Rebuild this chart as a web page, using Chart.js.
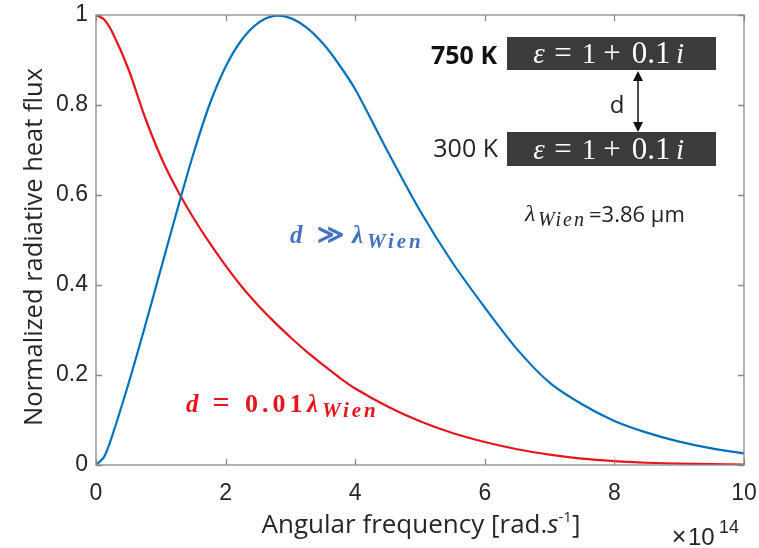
<!DOCTYPE html>
<html>
<head>
<meta charset="utf-8">
<script src="https://cdn.jsdelivr.net/npm/chart.js@4/dist/chart.umd.min.js"></script>
<style>
  html, body { margin: 0; padding: 0; background: #fff; }
  #wrap { width: 759px; height: 548px; position: relative; }
</style>
</head>
<body>
<div id="wrap"><canvas id="chart-flux"></canvas></div>
<script>
// angular frequency (x 1e14 rad/s)
const freq = [0, 0.125, 0.25, 0.5, 0.75, 1, 1.25, 1.5, 1.75, 2, 2.25, 2.5, 2.75, 3, 3.25, 3.5, 3.75,
  4, 4.5, 5, 5.5, 6, 6.5, 7, 7.5, 8, 8.5, 9, 9.5, 10];
// d >> lambda_Wien (far field)
const fluxFar = [0, 0.018, 0.065, 0.18, 0.305, 0.435, 0.565, 0.69, 0.8, 0.885, 0.945, 0.982, 0.998, 0.993, 0.972, 0.937, 0.89,
  0.835, 0.697, 0.565, 0.45, 0.35, 0.257, 0.183, 0.135, 0.098, 0.072, 0.052, 0.037, 0.026];
// d = 0.01 lambda_Wien (near field)
const fluxNear = [1.0, 0.99, 0.962, 0.88, 0.775, 0.685, 0.612, 0.55, 0.494, 0.443, 0.396, 0.355, 0.318, 0.284, 0.252, 0.223, 0.195,
  0.17, 0.13, 0.097, 0.071, 0.051, 0.035, 0.023, 0.014, 0.0085, 0.005, 0.003, 0.0018, 0.001];
const xTicks = [0, 2, 4, 6, 8, 10];
const yTicks = [0, 0.2, 0.4, 0.6, 0.8, 1];

const BLUE = '#0072bd';
const RED = '#e8141c';
const AXIS = '#8a8a8a';
const SANS = '"Open Sans", "Noto Sans", sans-serif';
const SERIF = '"Liberation Serif", "DejaVu Serif", serif';
const HELV = '"Liberation Sans", Arial, sans-serif';

function txt(ctx, s, x, y, font, color, align = 'left', spacing = 0) {
  ctx.font = font;
  ctx.fillStyle = color;
  ctx.textAlign = align;
  ctx.textBaseline = 'alphabetic';
  ctx.letterSpacing = spacing + 'px';
  ctx.fillText(s, x, y);
  const w = ctx.measureText(s).width;
  ctx.letterSpacing = '0px';
  return w;
}

const framePlugin = {
  id: 'frame',
  beforeDraw(chart) {
    const ctx = chart.ctx;
    ctx.save();
    ctx.fillStyle = '#fff';
    ctx.fillRect(0, 0, chart.width, chart.height);
    ctx.restore();
  },
  afterDraw(chart) {
    const ctx = chart.ctx;
    const { left, right, top, bottom } = chart.chartArea;
    const xs = chart.scales.x, ys = chart.scales.y;
    ctx.save();

    // box + inward ticks (matlab style)
    ctx.strokeStyle = AXIS;
    ctx.lineWidth = 1.3;
    ctx.strokeRect(left, top, right - left, bottom - top);
    ctx.beginPath();
    xTicks.forEach((t) => {
      const px = Math.round(xs.getPixelForValue(t)) + 0.5;
      ctx.moveTo(px, bottom); ctx.lineTo(px, bottom - 6);
      ctx.moveTo(px, top); ctx.lineTo(px, top + 6);
    });
    yTicks.forEach((t) => {
      const py = Math.round(ys.getPixelForValue(t)) + 0.5;
      ctx.moveTo(left, py); ctx.lineTo(left + 6, py);
      ctx.moveTo(right, py); ctx.lineTo(right - 6, py);
    });
    ctx.stroke();

    // axis titles
    const TC = '#262626';
    ctx.font = '26px ' + SANS;
    const a = 'Angular frequency [rad.';
    const wa = ctx.measureText(a).width;
    ctx.font = 'italic 26px ' + SANS;
    const ws = ctx.measureText('s').width;
    ctx.font = '15px ' + SANS;
    const wb = ctx.measureText('-1').width;
    ctx.font = '26px ' + SANS;
    const wc = ctx.measureText(']').width;
    const x0 = 421 - (wa + ws + wb + wc) / 2;
    txt(ctx, a, x0, 533, '26px ' + SANS, TC);
    txt(ctx, 's', x0 + wa, 533, 'italic 26px ' + SANS, TC);
    txt(ctx, '-1', x0 + wa + ws, 522, '15px ' + SANS, TC);
    txt(ctx, ']', x0 + wa + ws + wb, 533, '26px ' + SANS, TC);

    ctx.save();
    ctx.translate(42, 247);
    ctx.rotate(-Math.PI / 2);
    txt(ctx, 'Normalized radiative heat flux', 0, 0, '25.5px ' + SANS, TC, 'center');
    ctx.restore();

    // exponent
    txt(ctx, '\u00d7', 679, 545, '25px ' + HELV, TC, 'center');
    txt(ctx, '10', 688, 545, '24px ' + HELV, TC);
    txt(ctx, '14', 719, 533, '18px ' + HELV, TC);

    // inset: two slabs
    ctx.fillStyle = '#3b3b3b';
    ctx.fillRect(507, 37, 209, 33);
    ctx.fillRect(507, 132, 209, 34);
    [63, 159].forEach((by) => {
      txt(ctx, '\u03b5', 539, by, 'italic 29px ' + SERIF, '#fff', 'center');
      txt(ctx, '=', 563, by, '31px ' + SERIF, '#fff', 'center');
      txt(ctx, '1', 589, by, '29px ' + SERIF, '#fff', 'center');
      txt(ctx, '+', 612, by, '31px ' + SERIF, '#fff', 'center');
      txt(ctx, '0.1', 651, by, '31px ' + SERIF, '#fff', 'center');
      txt(ctx, 'i', 680, by, 'italic 29px ' + SERIF, '#fff', 'center');
    });
    txt(ctx, '750 K', 497, 64, 'bold 25px ' + SANS, '#111', 'right');
    txt(ctx, '300 K', 498, 157, '25px ' + SANS, '#222', 'right');

    // double arrow
    ctx.strokeStyle = '#111';
    ctx.fillStyle = '#111';
    ctx.lineWidth = 1.5;
    ctx.beginPath();
    ctx.moveTo(638, 78); ctx.lineTo(638, 125);
    ctx.stroke();
    ctx.beginPath();
    ctx.moveTo(638, 71); ctx.lineTo(633, 81); ctx.lineTo(643, 81); ctx.closePath();
    ctx.moveTo(638, 132); ctx.lineTo(633, 122); ctx.lineTo(643, 122); ctx.closePath();
    ctx.fill();
    txt(ctx, 'd', 617, 113, '24px ' + SANS, '#222', 'center');

    // lambda Wien
    txt(ctx, '\u03bb', 525, 221, 'italic 24px ' + SERIF, '#222');
    txt(ctx, 'Wien', 538, 226, 'italic 20px ' + SERIF, '#222', 'left', 2);
    txt(ctx, '=3.86 \u00b5m', 589, 222, '22px ' + SANS, '#222');

    // curve labels
    const BL = '#4472c4';
    txt(ctx, 'd', 290, 243, 'bold italic 25px ' + SERIF, BL);
    txt(ctx, '\u226b', 330, 243, 'bold 26px "DejaVu Serif", serif', BL, 'center');
    txt(ctx, '\u03bb', 352, 243, 'bold italic 25px ' + SERIF, BL);
    txt(ctx, 'Wien', 367, 248, 'bold italic 21px ' + SERIF, BL, 'left', 3);

    txt(ctx, 'd', 186, 412, 'bold italic 25px ' + SERIF, RED);
    txt(ctx, '=', 221, 412, 'bold 30px ' + SERIF, RED, 'center');
    txt(ctx, '0.01', 245, 412, 'bold 26px ' + SERIF, RED, 'left', 4);
    txt(ctx, '\u03bb', 307, 412, 'bold italic 25px ' + SERIF, RED);
    txt(ctx, 'Wien', 322, 417, 'bold italic 21px ' + SERIF, RED, 'left', 3);

    ctx.restore();
  }
};

const ctx = document.getElementById('chart-flux').getContext('2d');
new Chart(ctx, {
  type: 'line',
  data: {
    datasets: [
      { label: 'd >> lambda_Wien', data: freq.map((f, i) => ({ x: f, y: fluxFar[i] })),
        borderColor: BLUE, borderWidth: 2.2, pointRadius: 0, tension: 0.3, fill: false },
      { label: 'd = 0.01 lambda_Wien', data: freq.map((f, i) => ({ x: f, y: fluxNear[i] })),
        borderColor: RED, borderWidth: 2.2, pointRadius: 0, tension: 0.3, fill: false }
    ]
  },
  options: {
    responsive: true,
    maintainAspectRatio: false,
    animation: false,
    events: [],
    layout: { padding: { left: 0, right: 15, top: 15, bottom: 0 } },
    plugins: { legend: { display: false }, tooltip: { enabled: false } },
    scales: {
      x: {
        type: 'linear', min: 0, max: 10,
        afterFit: (s) => { s.height = 83; s.paddingLeft = 0; s.paddingRight = 0; },
        afterBuildTicks: (s) => { s.ticks = xTicks.map((v) => ({ value: v })); },
        ticks: { font: { family: HELV, size: 23 }, color: '#262626', padding: 15, maxRotation: 0, autoSkip: false },
        grid: { display: true, drawOnChartArea: false, drawTicks: false },
        border: { display: false }
      },
      y: {
        type: 'linear', min: 0, max: 1,
        afterFit: (s) => { s.width = 96; s.paddingTop = 0; s.paddingBottom = 0; },
        afterBuildTicks: (s) => { s.ticks = yTicks.map((v) => ({ value: v })); },
        ticks: { font: { family: HELV, size: 23 }, color: '#262626', padding: 8,
          callback: (v) => String(Math.round(v * 10) / 10) },
        grid: { display: true, drawOnChartArea: false, drawTicks: false },
        border: { display: false }
      }
    }
  },
  plugins: [framePlugin]
});
</script>
</body>
</html>
